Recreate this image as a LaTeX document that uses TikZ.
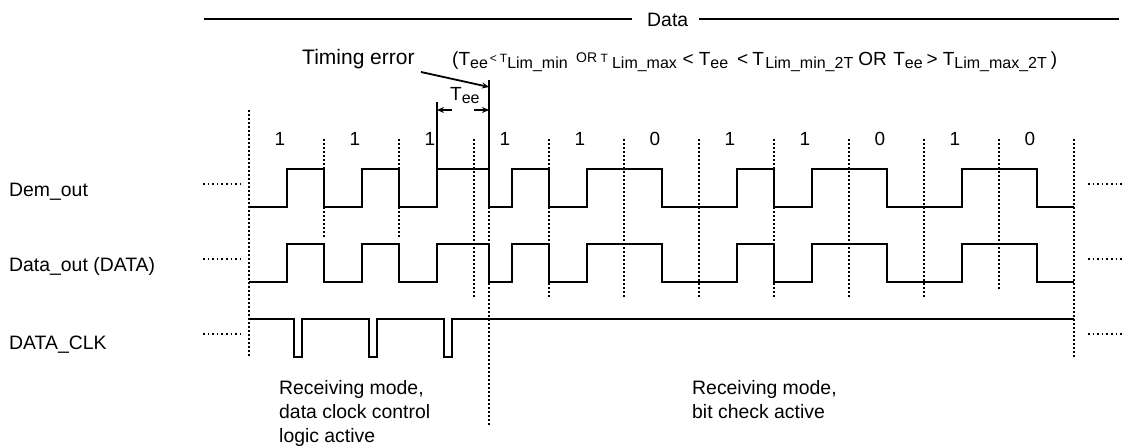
\documentclass[tikz,border=0pt]{standalone}
\usepackage{fontspec}
\setmainfont{Liberation Sans}
\usetikzlibrary{arrows.meta}
\newcommand{\subtxt}[1]{\raisebox{-3pt}{\fontsize{16}{16}\selectfont #1}}
\newcommand{\bigtee}[1]{T\subtxt{#1}}
\newcommand{\smalltxt}[1]{\raisebox{3pt}{\fontsize{12}{12}\selectfont #1}}
\tikzset{
  wave/.style={line width=1.8pt},
  grid dots/.style={line width=1.6pt, dash pattern=on 1.6pt off 2.4pt},
  stub dots/.style={line width=1.6pt, dash pattern=on 1.6pt off 3pt},
  label text/.style={font=\fontsize{19.4}{24}\selectfont, anchor=base west, inner sep=0pt},
  mode text/.style={font=\fontsize{19.4}{24}\selectfont, anchor=north west, align=left, inner sep=0pt},
  bit text/.style={font=\fontsize{19}{19}\selectfont, inner sep=0pt},
  tip/.style={-{Stealth[length=7pt,width=6pt]}, line width=1.8pt}
}
\begin{document}
\begin{tikzpicture}[x=1pt, y=-1pt]
  \useasboundingbox (0,0) rectangle (1122,445);
  % data bar
  \node[label text] (data) at (647,26) {Data};
  \coordinate (barL) at (203.5,19);
  \coordinate (barM) at (632,19);
  \coordinate (barN) at (699,19);
  \coordinate (barR) at (1119,19);
  \draw[wave] (barL) -- (barM) (barN) -- (barR);
  % timing error
  \node[anchor=base west, inner sep=0pt, font=\fontsize{21}{21}\selectfont] (terr) at (302,64) {Timing error};
  \node[anchor=base west, inner sep=0pt, font=\fontsize{19}{19}\selectfont] (cond) at (452,65)
    {(\bigtee{ee}\kern2pt\smalltxt{<}\kern3pt\smalltxt{T}\subtxt{Lim\_min}\kern8.5pt\smalltxt{\fontsize{14}{14}\selectfont OR}\kern3.5pt\smalltxt{T}\kern4pt\subtxt{Lim\_max}\kern5.7pt<\kern5pt\bigtee{ee}\kern9pt<\kern4pt T\kern1.4pt\subtxt{Lim\_min\_2T}\kern5pt OR\kern6.5pt\bigtee{ee}\kern4pt>\kern5pt\bigtee{Lim\_max\_2T}\kern4pt)};
  \coordinate (errA) at (421,72);
  \coordinate (errB) at (489,87);
  \draw[tip] (errA) -- (errB);
  % tee
  \node[anchor=base west, inner sep=0pt, font=\fontsize{19}{19}\selectfont] (tee) at (450,100) {\bigtee{ee}};
  \coordinate (teeL) at (437,110);
  \coordinate (teeLb) at (452,110);
  \coordinate (teeR) at (489,110);
  \coordinate (teeRb) at (474,110);
  \draw[tip] (teeLb) -- (teeL);
  \draw[tip] (teeRb) -- (teeR);
  \coordinate (tallA) at (437,102);
  \coordinate (tallB) at (489,80);
  \draw[wave] (tallA) -- (437,207);
  \draw[wave] (tallB) -- (489,207);
  % grid
  \draw[grid dots] (249,110) -- (249,357);
  \foreach \xg/\yg in {324/237, 399/237, 474/297, 549/297, 624/297, 699/297, 774/297, 849/297, 924/297, 999/290}
    \draw[grid dots] (\xg,139) -- (\xg,\yg);
  \draw[grid dots] (1074,139) -- (1074,357);
  \draw[grid dots] (489,207) -- (489,425);
  % bits
  \foreach \i/\b in {0/1,1/1,2/1,3/1,4/1,5/0,6/1,7/1,8/0,9/1,10/0}
    \node[bit text] (bit\i) at ({280+75*\i},139) {\b};
  % signals
  \node[label text] (dem) at (9,196) {Dem\_out};
  \node[label text] (dout) at (9,271) {Data\_out (DATA)};
  \node[label text] (clk) at (9,349) {DATA\_CLK};
  \foreach \ys in {184,259,334} {
    \draw[stub dots] (203,\ys) -- (242,\ys);
    \draw[stub dots] (1088,\ys) -- (1122,\ys);
  }
  \foreach \hi/\lo in {169/207, 244/282}
    \draw[wave] (249,\lo) -| (287,\hi) -| (324,\lo) -| (362,\hi) -| (399,\lo) -| (437,\hi) -| (489,\lo) -| (512,\hi) -| (549,\lo) -| (587,\hi) -| (662,\lo) -| (737,\hi) -| (774,\lo) -| (812,\hi) -| (887,\lo) -| (962,\hi) -| (1037,\lo) -- (1074,\lo);
  \draw[wave] (249,319) -| (294,357) -| (302,319) -| (369,357) -| (377,319) -| (444,357) -| (452,319) -- (1074,319);
  % modes
  \node[mode text] (modeA) at (279,380) {Receiving mode,\\data clock control\\logic active};
  \node[mode text] (modeB) at (692,380) {Receiving mode,\\bit check active};
\end{tikzpicture}
\end{document}
